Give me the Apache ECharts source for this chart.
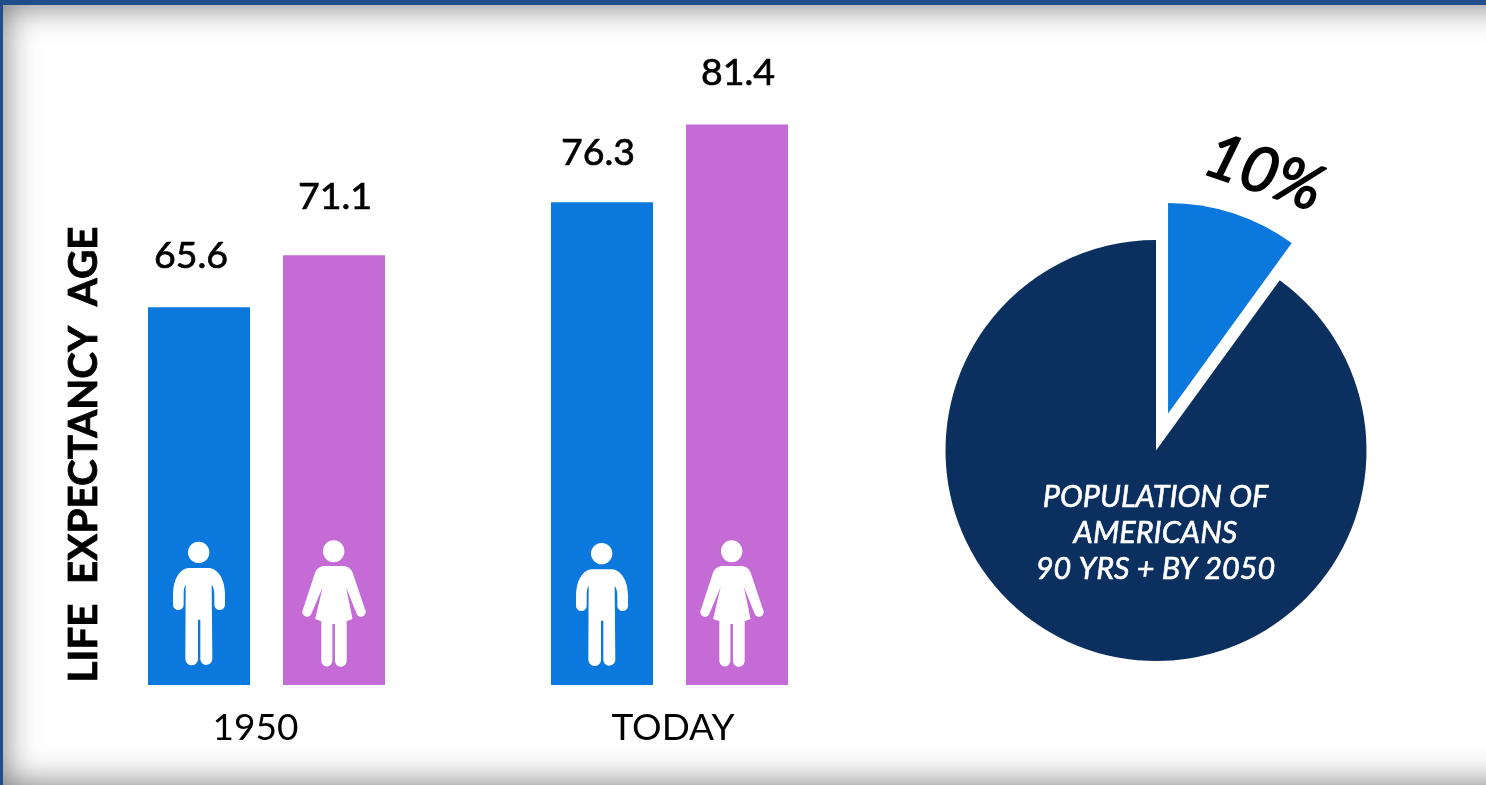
<!DOCTYPE html>
<html>
<head>
<meta charset="utf-8">
<style>
html,body{margin:0;padding:0;width:100%;height:100%;overflow:hidden;background:#fff}
#frame{position:absolute;left:0;top:0;width:1486px;height:785px;overflow:hidden;background:#fff}
#chart{position:absolute;left:0;top:0;width:1486px;height:785px}
#shade{position:absolute;left:0;top:0;width:1600px;height:785px;box-sizing:border-box;border-top:5px solid #1F4E8A;border-left:3px solid #1F4E8A;box-shadow:inset 0 0 34px rgba(80,80,80,.8);pointer-events:none}
</style>
<script src="https://cdn.jsdelivr.net/npm/echarts@6/dist/echarts.min.js"></script>
</head>
<body>
<div id="frame"><div id="chart"></div><div id="shade"></div></div>
<script>
const categories = ['1950', 'TODAY'];
const menValues = [65.6, 76.3];
const womenValues = [71.1, 81.4];
const pieNames = ['Americans 90 yrs + by 2050', 'Everyone else'];
const pieValues = [10, 90];
const yTitle = 'LIFE  EXPECTANCY  AGE';
const pieTitle = 'POPULATION OF\nAMERICANS\n90 YRS + BY 2050';

const BLUE = '#0A78DC', PINK = '#C56BD6', NAVY = '#0B2F5E';
const FONT = 'Lato, "Open Sans", sans-serif';

const manPath = 'path://M145 98a32 32 0 1 0 64 0a32 32 0 1 0-64 0Z' +
  'M145 145L210 145C240 150 256 185 256 225L256 255A16 16 0 0 1 224 255L224 225C224 210 220 200 216 195L218 415A18 18 0 0 1 182 420L182 300L175 300L175 420A19 19 0 0 1 137 415L138 195C134 200 132 210 132 225L132 255A16 16 0 0 1 100 255L100 225C100 185 115 150 145 145Z';
const womanPath = 'path://M549 92a33 33 0 1 0 66 0a33 33 0 1 0-66 0Z' +
  'M550 136L615 136Q632 138 640 155L678 265A13 13 0 0 1 654 282L620 200L640 295L622 302L622 418A18 18 0 0 1 586 422L586 310L578 310L578 422A17 17 0 0 1 544 418L544 302L525 295L548 200L512 282A13 13 0 0 1 488 265L525 155Q533 138 550 136Z';

function barSeries(i, name, value, color, offset, iconPath, iconBox) {
  return {
    type: 'bar', name: name, xAxisIndex: i, yAxisIndex: i,
    data: [value], barWidth: 102, barGap: '32.35%',
    itemStyle: { color: color },
    label: { show: true, position: 'top', distance: 0, offset: offset, color: '#000', fontFamily: FONT, fontSize: 37.5, textBorderColor: '#000', textBorderWidth: 0.7 },
    markPoint: {
      silent: true, animation: false,
      symbol: iconPath, symbolSize: [iconBox[2], iconBox[3]], symbolKeepAspect: false,
      itemStyle: { color: '#fff' }, label: { show: false },
      data: [{ x: iconBox[0], y: iconBox[1] }]
    },
    silent: true, animation: false
  };
}

function xAxis(i, cat, pad) {
  return {
    type: 'category', gridIndex: i, data: [cat],
    axisLine: { show: false }, axisTick: { show: false },
    axisLabel: { color: '#000', fontFamily: FONT, fontSize: 37, margin: 25, padding: pad }
  };
}

const chart = echarts.init(document.getElementById('chart'), null, { renderer: 'canvas' });
chart.setOption({
  animation: false,
  backgroundColor: 'transparent',
  // The reference's bars are not drawn to one scale across the two periods,
  // so each period has its own hidden value axis; values stay the printed ones.
  grid: [
    { left: 148, width: 237, top: 224, height: 461 },
    { left: 551, width: 237, top: 100, height: 585 }
  ],
  xAxis: [xAxis(0, categories[0], [0, 22, 0, 0]), xAxis(1, categories[1], [0, 0, 0, 7])],
  yAxis: [
    {
      type: 'value', gridIndex: 0, min: 25.6, max: 74.4, name: yTitle, nameLocation: 'middle', nameGap: 44, nameRotate: 90,
      nameTextStyle: { color: '#000', fontFamily: FONT, fontSize: 40.4, fontWeight: 'bold', textBorderColor: '#000', textBorderWidth: 0.8 },
      axisLine: { show: false }, axisTick: { show: false }, axisLabel: { show: false }, splitLine: { show: false }
    },
    {
      type: 'value', gridIndex: 1, min: 44.7, max: 83,
      axisLine: { show: false }, axisTick: { show: false }, axisLabel: { show: false }, splitLine: { show: false }
    }
  ],
  series: [
    barSeries(0, 'Men', menValues[0], BLUE, [-8, -32], manPath, [199, 603.5, 52, 123.5]),
    barSeries(0, 'Women', womenValues[0], PINK, [1, -39], womanPath, [334, 603.5, 63.5, 126.5]),
    barSeries(1, 'Men', menValues[1], BLUE, [-4, -30], manPath, [602, 604.5, 52, 123]),
    barSeries(1, 'Women', womenValues[1], PINK, [1, -33], womanPath, [732, 603.5, 63.5, 126.5]),
    {
      type: 'pie', center: [1156, 450.5], radius: 210.5, startAngle: 90, clockwise: true,
      selectedMode: 'single', selectedOffset: 39, silent: true, animation: false,
      label: { show: false }, labelLine: { show: false },
      data: [
        { name: pieNames[0], value: pieValues[0], selected: true, itemStyle: { color: BLUE } },
        { name: pieNames[1], value: pieValues[1], itemStyle: { color: NAVY } }
      ]
    }
  ],
  graphic: [
    {
      type: 'text', z: 20, x: 1155.5, y: 533,
      style: { text: pieTitle, fill: '#fff', font: 'italic 30.6px ' + FONT, align: 'center', verticalAlign: 'middle', lineHeight: 36, stroke: '#fff', lineWidth: 0.6 }
    },
    {
      type: 'text', z: 20, x: 1264, y: 173, rotation: -19 * Math.PI / 180,
      style: { text: pieValues[0] + '%', fill: '#000', font: 'italic 63px ' + FONT, align: 'center', verticalAlign: 'middle', stroke: '#000', lineWidth: 1.6 }
    }
  ]
});
</script>
</body>
</html>
